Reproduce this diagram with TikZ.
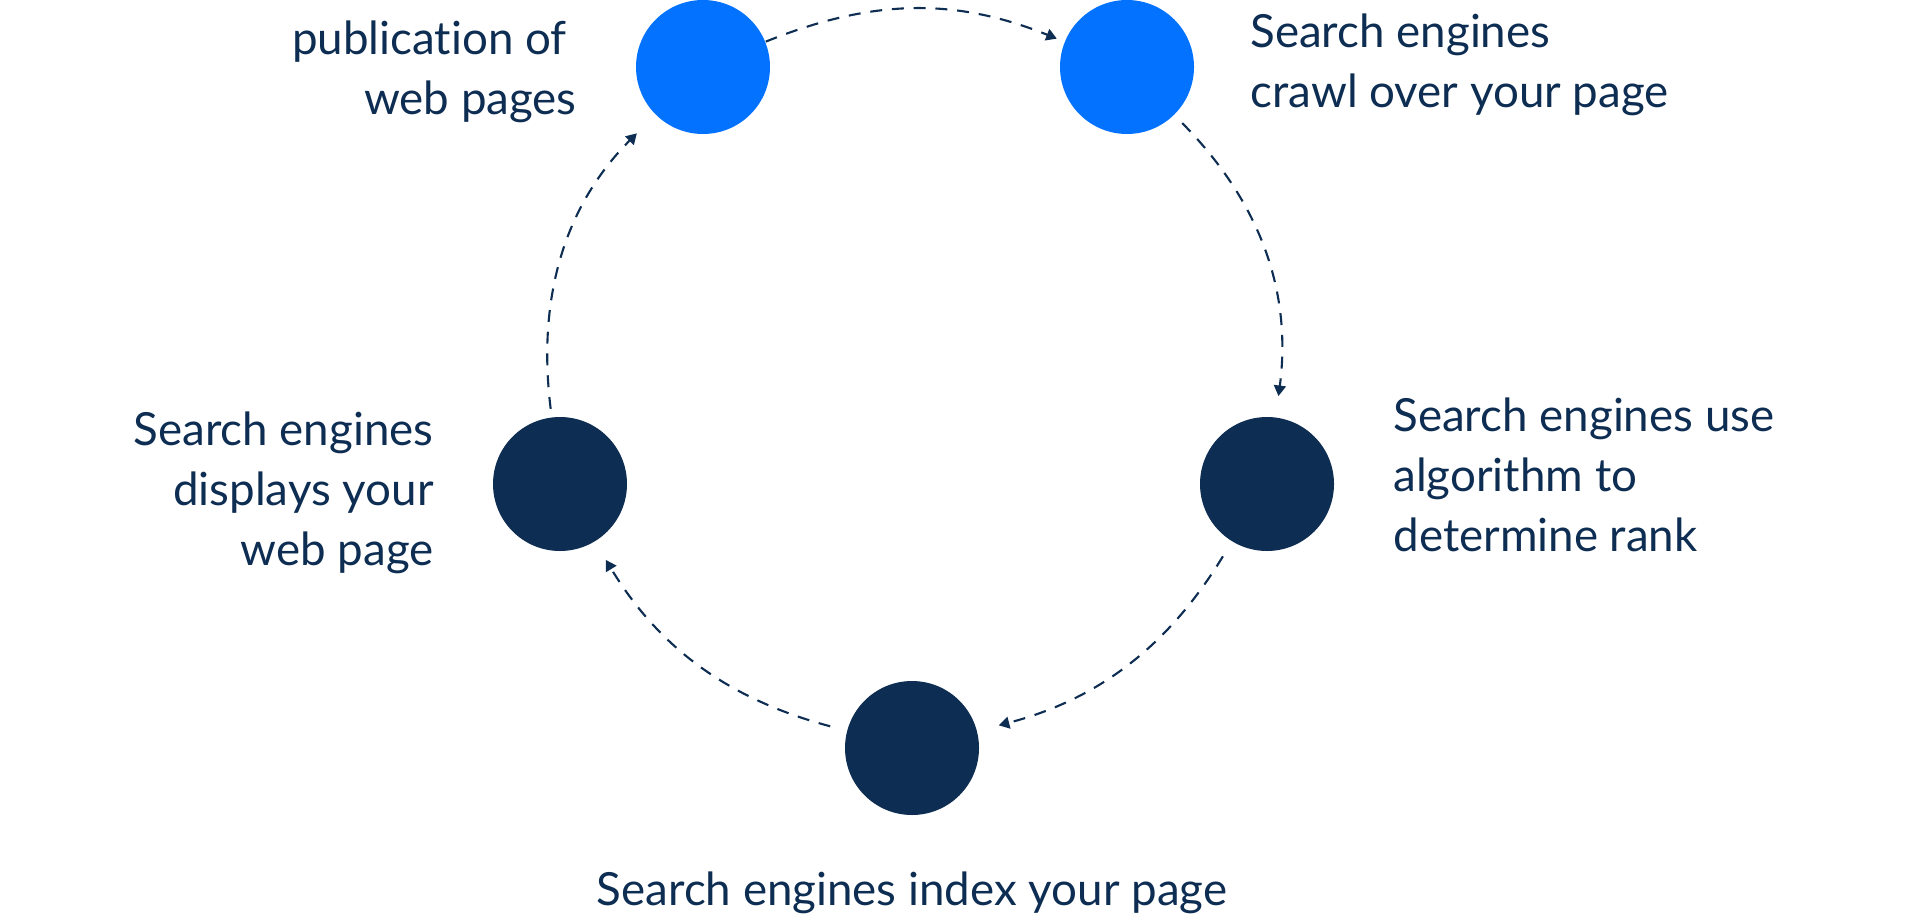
\documentclass[tikz,border=0pt]{standalone}
\usepackage{fontspec}
\setmainfont{Lato}[Ligatures=NoCommon]
\usetikzlibrary{positioning,arrows.meta}
\definecolor{navy}{RGB}{14,45,82}
\definecolor{brightblue}{RGB}{3,115,255}

\begin{document}
\begin{tikzpicture}[
    font=\fontsize{13pt}{17pt}\selectfont,
    stage/.style={circle, minimum size=1.34cm, inner sep=0pt, fill=navy},
    newstage/.style={stage, fill=brightblue},
    caption/.style={text=navy, inner sep=0pt},
    flow/.style={-{Triangle[length=3pt,width=3.4pt]}, draw=navy, line width=0.6pt, dash pattern=on 3.4pt off 2.8pt}
  ]
    \useasboundingbox (0,0) rectangle (19.2,-9.18);

    % Stages
    \node[newstage] (publish) at (7.03,-0.67) {};
    \node[newstage] (crawl) at (11.27,-0.67) {};
    \node[stage] (rank) at (12.67,-4.84) {};
    \node[stage] (index) at (9.12,-7.48) {};
    \node[stage] (display) at (5.60,-4.84) {};

    % Captions
    \node[caption, align=right, left=0.58cm of publish, yshift=-0.05cm] (publishtext) {publication of\hspace*{0.1cm}\\web pages};
    \node[caption, align=left, right=0.55cm of crawl, yshift=0.02cm] (crawltext) {Search engines\\crawl over your page};
    \node[caption, align=left, right=0.58cm of rank, yshift=0.09cm] (ranktext) {Search engines use\\algorithm to\\determine rank};
    \node[caption, below=0.55cm of index] (indextext) {Search engines index your page};
    \node[caption, align=right, left=0.58cm of display, yshift=-0.09cm] (displaytext) {Search engines\\displays your\\web page};

    % Cycle
    \draw[flow, shorten >=0.08cm] (publish) to[bend left=22] (crawl);
    \draw[flow, shorten <=0.11cm, shorten >=0.21cm] (crawl) to[bend left=26] (rank);
    \draw[flow, shorten <=0.17cm, shorten >=0.22cm] (rank) to[bend left=22] (index);
    \draw[flow, shorten <=0.17cm, shorten >=0.21cm] (index) to[bend left=22] (display);
    \draw[flow, shorten <=0.08cm, shorten >=0.26cm] (display) to[bend left=26] (publish);
\end{tikzpicture}
\end{document}
